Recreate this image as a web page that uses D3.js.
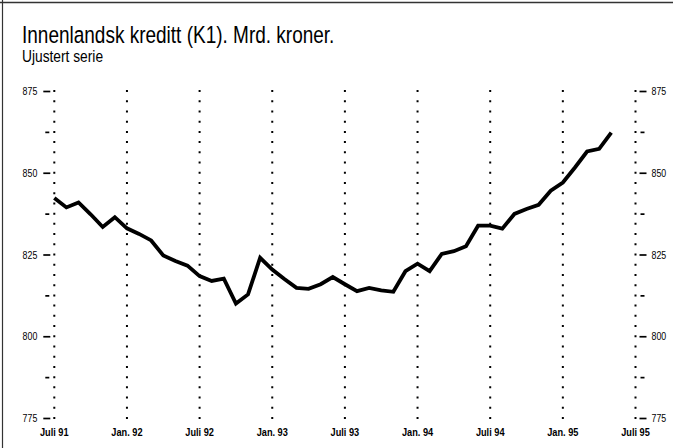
<!DOCTYPE html>
<html>
<head>
<meta charset="utf-8">
<script src="https://cdn.jsdelivr.net/npm/d3@7"></script>
<style>
  body { margin: 0; background: #fff; }
  svg { display: block; font-family: "Liberation Sans", Arial, sans-serif; }
  .axis path { display: none; }
  .axis line { stroke: #000; stroke-width: 1.7; }
  .axis text { font-size: 11px; fill: #000; }
  .xlab { font-size: 11.5px; font-weight: bold; }
</style>
</head>
<body>
<div id="chart"></div>
<script>
    var width = 673,
        height = 448;

    // months counted from Juli 91
    var months = d3.range(0, 47);
    var values = [
        842.3, 839.4, 840.9, 837.3, 833.4, 836.4,            // jul-dec 91
        833.0, 831.3, 829.3, 824.7, 823.0, 821.6,            // jan-jun 92
        818.4, 816.9, 817.6, 810.0, 812.8, 824.0,            // jul-dec 92
        820.4, 817.5, 814.8, 814.5, 815.9, 818.1,            // jan-jun 93
        815.9, 813.8, 814.8, 814.0, 813.6, 819.9,            // jul-dec 93
        822.2, 819.9, 825.2, 826.0, 827.5, 833.8,            // jan-jun 94
        833.8, 832.9, 837.4, 838.9, 840.2, 844.5,            // jul-dec 94
        847.0, 851.6, 856.5, 857.3, 862.3                    // jan-mai 95
    ];
    var xTicks = [0, 6, 12, 18, 24, 30, 36, 42, 48];
    var xLabels = ["Juli 91", "Jan. 92", "Juli 92", "Jan. 93", "Juli 93", "Jan. 94", "Juli 94", "Jan. 95", "Juli 95"];
    var yMajor = [775, 800, 825, 850, 875];
    var yMinor = [787.5, 812.5, 837.5, 862.5];

    var title = "Innenlandsk kreditt (K1). Mrd. kroner.",
        subtitle = "Ujustert serie";

    var svg = d3.select("#chart").append("svg")
        .attr("width", width)
        .attr("height", height);

    var x = d3.scaleLinear().domain([0, 48]).range([54.3, 635.5]);
    var y = d3.scaleLinear().domain([775, 875]).range([418, 91]);

    // no narrow helvetica here, so squeeze the regular face
    function narrow(sel, f) {
        sel.each(function () {
            var w = this.getComputedTextLength();
            d3.select(this)
                .attr("textLength", w * f)
                .attr("lengthAdjust", "spacingAndGlyphs");
        });
    }

    // frame (left + top edge of the page)
    svg.append("line")
        .attr("x1", 2.5).attr("x2", 2.5).attr("y1", 0).attr("y2", height)
        .style("stroke", "#333").style("stroke-width", 1.2);
    svg.append("line")
        .attr("x1", 0).attr("x2", width).attr("y1", 2.5).attr("y2", 2.5)
        .style("stroke", "#333").style("stroke-width", 1.4);

    svg.append("text")
        .attr("x", 22).attr("y", 43)
        .style("font-size", "24.5px")
        .text(title)
        .call(narrow, 0.775);
    svg.append("text")
        .attr("x", 22).attr("y", 62)
        .style("font-size", "16px")
        .text(subtitle)
        .call(narrow, 0.86);

    // dotted verticals
    svg.append("g").selectAll("line")
        .data(xTicks)
        .enter().append("line")
        .attr("x1", function (d) { return x(d); })
        .attr("x2", function (d) { return x(d); })
        .attr("y1", y(875) - 1)
        .attr("y2", y(775) + 2)
        .style("stroke", "#000")
        .style("stroke-width", 2)
        .style("stroke-dasharray", "2," + ((y(775) - y(875)) / 32 - 2));

    // y axes
    svg.append("g")
        .attr("class", "axis")
        .attr("transform", "translate(" + (x(0) - 4) + ",0)")
        .call(d3.axisLeft(y).tickValues(yMajor).tickSize(7).tickPadding(6))
        .selectAll("text").call(narrow, 0.8);
    svg.append("g")
        .attr("class", "axis")
        .attr("transform", "translate(" + (x(0) - 5) + ",0)")
        .call(d3.axisLeft(y).tickValues(yMinor).tickSize(4).tickFormat(""));
    svg.append("g")
        .attr("class", "axis")
        .attr("transform", "translate(" + (x(48) + 4) + ",0)")
        .call(d3.axisRight(y).tickValues(yMajor).tickSize(7).tickPadding(5))
        .selectAll("text").call(narrow, 0.8);
    svg.append("g")
        .attr("class", "axis")
        .attr("transform", "translate(" + (x(48) + 5) + ",0)")
        .call(d3.axisRight(y).tickValues(yMinor).tickSize(4).tickFormat(""));

    // x labels
    svg.append("g").selectAll("text")
        .data(xTicks)
        .enter().append("text")
        .attr("class", "xlab")
        .attr("x", function (d) { return x(d); })
        .attr("y", 436)
        .attr("text-anchor", "middle")
        .text(function (d, i) { return xLabels[i]; })
        .call(narrow, 0.8);

    var line = d3.line()
        .x(function (d, i) { return x(months[i]); })
        .y(function (d) { return y(d); });

    svg.append("path")
        .datum(values)
        .attr("d", line)
        .style("fill", "none")
        .style("stroke", "#000")
        .style("stroke-width", 3.8)
        .style("stroke-linejoin", "miter");
</script>
</body>
</html>
